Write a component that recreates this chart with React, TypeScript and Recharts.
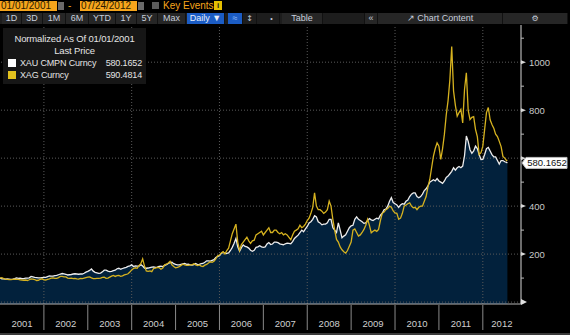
import React from 'react';
import {
  ComposedChart,
  Area,
  Line,
  XAxis,
  YAxis,
  ReferenceLine,
} from 'recharts';

// half-monthly closes, normalized to 100 on 01/01/2001
const xau = [
  // 2001
  100, 97, 97, 96, 97, 96, 95, 96, 98, 101, 99, 100, 98, 98, 100, 100, 101, 107, 105, 103, 102, 101, 101, 102,
  // 2002
  103, 103, 106, 109, 108, 108, 110, 111, 114, 117, 119, 118, 116, 113, 114, 115, 117, 118, 117, 116, 117, 117, 120, 125,
  // 2003
  128, 132, 138, 129, 124, 122, 120, 121, 126, 133, 133, 129, 127, 128, 131, 133, 139, 141, 137, 140, 143, 145, 149, 151,
  // 2004
  155, 148, 151, 150, 150, 156, 150, 142, 141, 142, 144, 146, 147, 145, 146, 149, 150, 148, 153, 156, 161, 164, 166, 160,
  // 2005
  157, 155, 155, 157, 159, 161, 157, 158, 155, 154, 156, 161, 156, 157, 160, 161, 166, 172, 172, 171, 174, 177, 186, 190,
  // 2006
  193, 203, 208, 203, 203, 205, 215, 228, 245, 265, 230, 212, 227, 238, 232, 230, 225, 216, 212, 216, 228, 230, 235, 230,
  // 2007
  228, 230, 242, 248, 240, 242, 250, 250, 248, 243, 241, 239, 243, 246, 245, 243, 252, 265, 272, 279, 290, 300, 293, 305,
  // 2008
  315, 330, 335, 345, 360, 355, 335, 330, 322, 325, 325, 330, 345, 345, 310, 300, 290, 330, 300, 268, 275, 280, 295, 310,
  // 2009
  318, 320, 345, 355, 345, 340, 335, 328, 330, 340, 348, 343, 340, 345, 350, 347, 362, 370, 385, 388, 400, 420, 435, 415,
  // 2010
  410, 405, 395, 405, 410, 408, 420, 425, 440, 450, 455, 455, 440, 435, 440, 450, 465, 472, 485, 500, 505, 510, 505, 515,
  // 2011
  505, 500, 495, 505, 520, 525, 535, 545, 560, 550, 560, 565, 560, 567, 610, 692, 670, 635, 620, 630, 650, 640, 615, 594,
  // 2012 (to mid-July)
  595, 615, 640, 645, 630, 615, 605, 605, 590, 575, 590, 590, 585, 582,
];

const xag = [
  // 2001
  100, 102, 98, 96, 95, 94, 94, 95, 96, 95, 95, 93, 92, 91, 92, 90, 93, 97, 96, 94, 90, 91, 95, 97,
  // 2002
  93, 92, 95, 97, 100, 101, 99, 99, 102, 107, 107, 105, 105, 100, 99, 100, 98, 99, 97, 96, 99, 98, 100, 102,
  // 2003
  104, 105, 101, 98, 98, 99, 99, 100, 103, 104, 99, 100, 104, 108, 111, 107, 110, 111, 107, 109, 113, 115, 118, 125,
  // 2004
  134, 140, 143, 141, 152, 160, 180, 150, 130, 128, 130, 127, 140, 142, 145, 144, 137, 142, 155, 158, 163, 170, 155, 148,
  // 2005
  143, 145, 148, 153, 158, 155, 153, 153, 155, 155, 160, 155, 152, 155, 150, 148, 154, 157, 163, 168, 166, 170, 180, 193,
  // 2006
  196, 205, 210, 200, 215, 225, 255, 285, 305, 325, 250, 215, 240, 250, 260, 270, 255, 245, 255, 258, 280, 285, 290, 295,
  // 2007
  280, 290, 300, 310, 290, 290, 300, 300, 290, 285, 290, 280, 285, 280, 270, 260, 280, 295, 300, 305, 320, 310, 315, 325,
  // 2008
  340, 350, 370, 395, 455, 400, 385, 385, 379, 370, 375, 385, 421, 400, 345, 300, 261, 250, 230, 218, 210, 204, 215, 233,
  // 2009
  250, 300, 305, 290, 275, 280, 290, 303, 320, 345, 320, 289, 295, 300, 295, 303, 340, 370, 375, 385, 390, 400, 395, 380,
  // 2010
  372, 370, 345, 350, 370, 400, 405, 410, 414, 400, 393, 395, 385, 395, 400, 400, 420, 440, 480, 511, 560, 608, 640, 664,
  // 2011
  650, 595, 640, 700, 780, 840, 928, 1065, 880, 820, 775, 790, 803, 747, 886, 956, 800, 761, 770, 773, 720, 690, 615, 623,
  // 2012 (to mid-July)
  650, 720, 790, 811, 760, 740, 725, 700, 690, 670, 648, 607, 600, 590,
];

const startYear = 2001;
const endDate = 2012.56; // 07/24/2012
const lastXau = 580.1652;
const lastXag = 590.4814;

const years = [2001, 2002, 2003, 2004, 2005, 2006, 2007, 2008, 2009, 2010, 2011, 2012];
const gridYears = [2002, 2004, 2006, 2008, 2010, 2012];
const priceTicks = [0, 100, 200, 300, 400, 500, 600, 700, 800, 900, 1000, 1100];
const labelledPrices = [200, 400, 800, 1000]; // 600 sits under the last-price flag
const gridPrices = [0, 200, 400, 600, 800, 1000];
const rangeButtons = ['1D', '3D', '1M', '6M', 'YTD', '1Y', '5Y', 'Max'];

const data = xau
  .map((v, i) => ({ t: startYear + i / 24, xau: v, xag: xag[i] }))
  .concat({ t: endDate, xau: lastXau, xag: lastXag });

const W = 570;
const H = 335;
const AXIS_X = 521;
const AXIS_Y = 304;
const YEAR_PX = 43.9;
const FONT = '"Liberation Sans", Arial, sans-serif';
const ORANGE = '#f6a51c';
const NAVY = '#02213c';
const GOLD = '#d6b21f';
const GRID = '#5a5a5a';

function YearTick({ x, payload }: any) {
  const yr = payload.value;
  const right = Math.min(x + YEAR_PX, AXIS_X);
  return (
    <g>
      {yr > startYear && (
        <line x1={x} x2={x} y1={AXIS_Y + 1} y2={AXIS_Y + 26} stroke="#8a8a8a" />
      )}
      <text
        x={(x + right) / 2}
        y={327}
        textAnchor="middle"
        fill="#cfcfcf"
        fontSize={9.5}
        fontFamily={FONT}
      >
        {yr}
      </text>
    </g>
  );
}

function PriceTick({ y, payload }: any) {
  const v = payload.value;
  if (v === 0) {
    return <path d={`M${AXIS_X} ${y - 3}L${AXIS_X + 6} ${y}L${AXIS_X} ${y + 3}Z`} fill="#e0e0e0" />;
  }
  if (v % 200 === 0) {
    return (
      <g>
        <path d={`M${AXIS_X} ${y - 2}L${AXIS_X + 5} ${y}L${AXIS_X} ${y + 2}Z`} fill="#d8d8d8" />
        {labelledPrices.includes(v) && (
          <text x={AXIS_X + 8} y={y + 3.5} fill="#c8c8c8" fontSize={9.5} fontFamily={FONT}>
            {v}
          </text>
        )}
      </g>
    );
  }
  return <line x1={AXIS_X} x2={AXIS_X + 3} y1={y} y2={y} stroke="#bbbbbb" />;
}

function LastPriceLabel({ viewBox }: any) {
  const y = viewBox.y;
  const x = AXIS_X + 1;
  return (
    <g>
      <path
        d={`M${x} ${y}L${x + 4} ${y - 5.5}L${x + 45} ${y - 5.5}L${x + 45} ${y + 5.5}L${x + 4} ${y + 5.5}Z`}
        fill="#ffffff"
        stroke="#bfbfbf"
      />
      <text x={x + 25} y={y + 3.3} textAnchor="middle" fill="#111" fontSize={9.5} fontFamily={FONT}>
        {lastXau.toFixed(4)}
      </text>
    </g>
  );
}

function Toolbar() {
  const btn = (label: string, left: number, width: number, extra: any = {}) => (
    <div
      key={label + left}
      style={{
        position: 'absolute',
        left,
        top: 13,
        width,
        height: 11,
        lineHeight: '11px',
        textAlign: 'center',
        fontSize: 9,
        color: '#c6cedc',
        background: '#262626',
        borderRight: '1px solid #111',
        boxSizing: 'border-box',
        ...extra,
      }}
    >
      {label}
    </div>
  );
  const dateBox = (label: string, left: number) => (
    <>
      <div
        style={{
          position: 'absolute',
          left,
          top: 1,
          width: 56,
          height: 10,
          lineHeight: '10px',
          background: ORANGE,
          color: '#2a1a00',
          fontSize: 10,
          paddingLeft: 1,
        }}
      >
        {label}
      </div>
      <div style={{ position: 'absolute', left: left + 58, top: 2, width: 6, height: 8, background: '#6a6a6a' }} />
    </>
  );
  const edges = [2, 22, 43, 66, 89, 116, 137, 158, 186];
  return (
    <div style={{ fontFamily: FONT }}>
      {dateBox('01/01/2001', 0)}
      <div style={{ position: 'absolute', left: 68, top: 0, color: ORANGE, fontSize: 10, lineHeight: '11px' }}>-</div>
      {dateBox('07/24/2012', 80)}
      <div style={{ position: 'absolute', left: 152, top: 2, width: 7, height: 7, background: '#5c5c5c' }} />
      <div style={{ position: 'absolute', left: 163, top: 0, color: ORANGE, fontSize: 10, lineHeight: '11px' }}>
        Key Events
      </div>
      <div
        style={{
          position: 'absolute',
          left: 214,
          top: 1,
          width: 8,
          height: 9,
          background: '#e6c000',
          color: '#222',
          fontSize: 8,
          lineHeight: '9px',
          textAlign: 'center',
          fontWeight: 700,
        }}
      >
        i
      </div>
      <div style={{ position: 'absolute', left: 0, top: 13, width: 568, height: 11, background: '#1d1d1d' }} />
      {rangeButtons.map((b, i) => btn(b, edges[i], edges[i + 1] - edges[i]))}
      {btn('Daily \u25BC', 187, 38, { background: '#1b5cc4', color: '#e8eefc' })}
      {btn('\u2248', 228, 15, { background: '#1b5cc4', color: '#9fc2ff' })}
      {btn('\u2195', 243, 14, { background: '#1d1d1d', fontFamily: '"DejaVu Sans"', fontSize: 8 })}
      {btn('\u2022', 264, 16, { background: '#1d1d1d', fontSize: 7 })}
      {btn('Table', 282, 41)}
      {btn('', 323, 42, { background: '#1d1d1d' })}
      {btn('\u00AB', 365, 13)}
      {btn('\u2197 Chart Content', 378, 125)}
      {btn('\u2699', 503, 65, { fontFamily: '"DejaVu Sans"', fontSize: 8 })}
    </div>
  );
}

function Legend() {
  const row = (color: string, name: string, value: number, top: number) => (
    <div style={{ position: 'absolute', left: 0, top, width: 143, height: 11, lineHeight: '11px' }}>
      <div style={{ position: 'absolute', left: 5, top: 1, width: 8, height: 8, background: color }} />
      <div style={{ position: 'absolute', left: 17 }}>{name}</div>
      <div style={{ position: 'absolute', right: 4 }}>{value.toFixed(4)}</div>
    </div>
  );
  return (
    <div
      style={{
        position: 'absolute',
        left: 3,
        top: 28,
        width: 143,
        height: 56,
        background: '#161616',
        color: '#e4e4e4',
        fontFamily: FONT,
        fontSize: 9,
        letterSpacing: -0.15,
      }}
    >
      <div style={{ position: 'absolute', top: 5, width: '100%', textAlign: 'center', lineHeight: '12px', fontSize: 9.5 }}>
        Normalized As Of 01/01/2001
      </div>
      <div style={{ position: 'absolute', top: 17, width: '100%', textAlign: 'center', lineHeight: '12px', fontSize: 9.5 }}>
        Last Price
      </div>
      {row('#ffffff', 'XAU CMPN Curncy', lastXau, 30)}
      {row('#e3c21e', 'XAG Curncy', lastXag, 42)}
    </div>
  );
}

export default function App() {
  return (
    <div style={{ position: 'relative', width: W, height: H, background: '#000', overflow: 'hidden' }}>
      <style>{'body{margin:0;background:#000;}'}</style>
      <ComposedChart width={W} height={H} data={data} margin={{ top: 25, right: 0, bottom: 0, left: 0 }}>
        <XAxis
          type="number"
          dataKey="t"
          domain={[startYear, 2012.87]}
          ticks={years}
          height={31}
          axisLine={{ stroke: '#b5b5b5' }}
          tickLine={false}
          tick={<YearTick />}
          interval={0}
          allowDataOverflow
        />
        <YAxis
          orientation="right"
          type="number"
          domain={[-8, 1155]}
          ticks={priceTicks}
          width={49}
          axisLine={{ stroke: '#d8d8d8' }}
          tickLine={false}
          tick={<PriceTick />}
          interval={0}
          allowDataOverflow
        />
        <Area
          dataKey="xau"
          type="linear"
          fill={NAVY}
          fillOpacity={1}
          stroke="none"
          baseValue="dataMin"
          isAnimationActive={false}
        />
        {gridYears.map((yr) => (
          <ReferenceLine key={'gx' + yr} x={yr} stroke={GRID} strokeDasharray="1 2" />
        ))}
        {gridPrices.map((p) => (
          <ReferenceLine key={'gy' + p} y={p} stroke={GRID} strokeDasharray="1 2" />
        ))}
        <Line
          dataKey="xau"
          type="linear"
          stroke="#ececec"
          strokeWidth={1.3}
          dot={false}
          isAnimationActive={false}
        />
        <Line
          dataKey="xag"
          type="linear"
          stroke={GOLD}
          strokeWidth={1.3}
          dot={false}
          isAnimationActive={false}
        />
        <ReferenceLine y={lastXau} stroke="none" label={<LastPriceLabel />} />
      </ComposedChart>
      <Toolbar />
      <Legend />
      <div style={{ position: 'absolute', left: 0, top: 333, width: W, height: 2, background: '#3a3a3a' }} />
    </div>
  );
}
